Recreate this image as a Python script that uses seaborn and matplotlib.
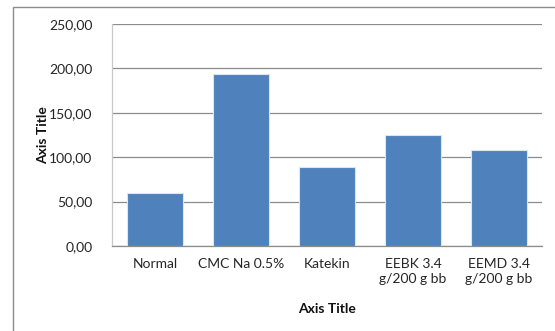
import matplotlib
matplotlib.use("Agg")
import matplotlib.pyplot as plt
from matplotlib.patches import Rectangle
from matplotlib.ticker import FuncFormatter, MultipleLocator
import pandas as pd
import seaborn as sns

# Treatment groups and measured values
categories = ["Normal", "CMC Na 0.5%", "Katekin", "EEBK 3.4\ng/200 g bb", "EEMD 3.4\ng/200 g bb"]
values = [60.0, 194.0, 88.6, 125.4, 108.1]

df = pd.DataFrame({"group": categories, "value": values})

sns.set_theme(style="white")
plt.rcParams["font.family"] = ["Lato", "DejaVu Sans"]

W, H = 555, 331
fig = plt.figure(figsize=(W / 100, H / 100), dpi=100)
ax = fig.add_axes([112 / W, (H - 246) / H, (542 - 112) / W, 222 / H])

sns.barplot(data=df, x="group", y="value", ax=ax, color="#4F81BD",
            saturation=1, width=0.645, edgecolor="#DCE6F2", linewidth=0.8,
            zorder=3)

ax.set_ylim(0, 250)
ax.set_xlim(-0.5, len(categories) - 0.5)
ax.yaxis.set_major_locator(MultipleLocator(50))
ax.yaxis.set_major_formatter(FuncFormatter(lambda v, _: f"{v:.2f}".replace(".", ",")))
ax.grid(axis="y", color="#8C8C8C", linewidth=0.9, zorder=0)
ax.grid(axis="x", visible=False)

for side in ("top", "right"):
    ax.spines[side].set_visible(False)
ax.spines["left"].set_color("#C8C8C8")
ax.spines["bottom"].set_color("#8C8C8C")
ax.spines["left"].set_linewidth(0.9)
ax.spines["bottom"].set_linewidth(0.9)

ax.tick_params(axis="y", length=0, pad=14, labelsize=10, labelcolor="#262626")
ax.tick_params(axis="x", length=0, pad=9, labelsize=10, labelcolor="#262626")
for lbl in ax.get_xticklabels():
    lbl.set_linespacing(1.25)

ax.set_xlabel("Axis Title", fontsize=10, fontweight="bold", color="#111111", labelpad=13)
ax.set_ylabel("Axis Title", fontsize=10, fontweight="bold", color="#111111", labelpad=0)

# Chart-area frame
fig.add_artist(Rectangle((13 / W, -0.05), 1.0, (H - 7) / H + 0.05,
                         transform=fig.transFigure, fill=False,
                         edgecolor="#8C8C8C", linewidth=1.0))

fig.savefig("out.png", dpi=100, facecolor="white")
